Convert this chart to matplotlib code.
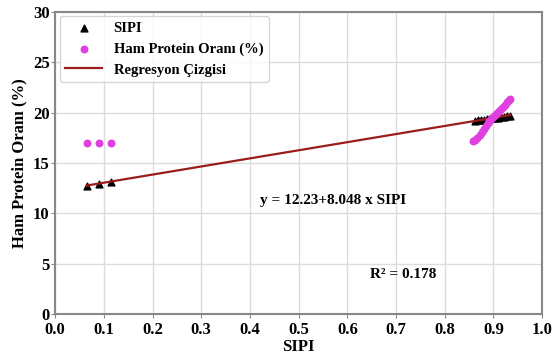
import numpy as np
import matplotlib
matplotlib.use("Agg")
import matplotlib.pyplot as plt

plt.rcParams['font.family'] = ['Liberation Serif', 'DejaVu Serif']
plt.rcParams['font.weight'] = 'bold'

# data
sipi_x = [0.065, 0.09, 0.115, 0.862, 0.868, 0.874, 0.880, 0.886, 0.892, 0.898,
          0.904, 0.910, 0.916, 0.922, 0.928, 0.934]
sipi_y = [12.75, 12.95, 13.15, 19.2, 19.25, 19.3, 19.3, 19.35, 19.4, 19.45,
          19.5, 19.5, 19.55, 19.6, 19.65, 19.7]

ham_x = [0.065, 0.09, 0.115, 0.858, 0.862, 0.867, 0.872, 0.876, 0.880, 0.884,
         0.888, 0.892, 0.896, 0.900, 0.904, 0.908, 0.912, 0.916, 0.920, 0.924,
         0.928, 0.932, 0.935]
ham_y = [17.0, 17.0, 17.0, 17.2, 17.3, 17.5, 17.8, 18.1, 18.4, 18.7,
         19.0, 19.2, 19.4, 19.6, 19.8, 20.0, 20.2, 20.4, 20.6, 20.8,
         21.0, 21.2, 21.3]

reg_intercept = 12.23
reg_slope = 8.048
r_squared = 0.178

fig = plt.figure(figsize=(5.52, 3.6), dpi=100)
ax = fig.add_axes([0.1, 0.128, 0.882, 0.839])

ax.grid(True, color='#dcdcdc', linewidth=1.0)
ax.set_axisbelow(True)

ax.scatter(sipi_x, sipi_y, marker='^', s=24, color='black', zorder=3, label='SIPI')
ax.scatter(ham_x, ham_y, marker='o', s=22, color='#e040e0', zorder=5,
           label='Ham Protein Oranı (%)')

line_x = np.array([min(sipi_x), max(sipi_x)])
ax.plot(line_x, reg_intercept + reg_slope * line_x, color='#9b1c1c', linewidth=1.6,
        zorder=4, label='Regresyon Çizgisi')

ax.text(0.42, 11.3, 'y = %.2f+%.3f x SIPI' % (reg_intercept, reg_slope),
        fontsize=11, fontweight='bold', va='center')
ax.text(0.647, 3.9, 'R² = %.3f' % r_squared, fontsize=11, fontweight='bold', va='center')

ax.set_xlim(0, 1.0)
ax.set_ylim(0, 30)
ax.set_xticks(np.arange(0, 1.01, 0.1))
ax.set_xticklabels(['%.1f' % v for v in np.arange(0, 1.01, 0.1)])
ax.set_yticks(range(0, 31, 5))

ax.set_xlabel('SIPI', fontsize=12, fontweight='bold', labelpad=1)
ax.set_ylabel('Ham Protein Oranı (%)', fontsize=12, fontweight='bold', labelpad=4)
ax.tick_params(labelsize=12, length=3, color='#888888', pad=1)
ax.tick_params(axis='x', pad=2.5)

for s in ax.spines.values():
    s.set_color('#888888')
    s.set_linewidth(1.5)

leg = ax.legend(loc='upper left', fontsize=10.5, frameon=True, borderaxespad=0.3,
                handlelength=2.5)
leg.get_frame().set_edgecolor('#cccccc')

fig.savefig('out.png', dpi=100)
